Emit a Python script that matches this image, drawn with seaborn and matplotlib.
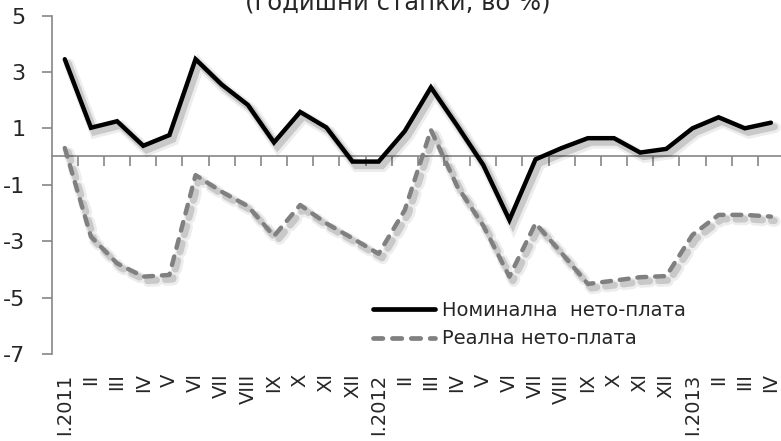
import numpy as np
import pandas as pd
import matplotlib
matplotlib.use("Agg")
import matplotlib.pyplot as plt
import matplotlib.patheffects as pe
import seaborn as sns

labels = ["I.2011", "II", "III", "IV", "V", "VI", "VII", "VIII", "IX", "X", "XI", "XII",
          "I.2012", "II", "III", "IV", "V", "VI", "VII", "VIII", "IX", "X", "XI", "XII",
          "I.2013", "II", "III", "IV"]
nominal = [3.45, 1.02, 1.25, 0.38, 0.76, 3.45, 2.55, 1.83, 0.50, 1.58, 1.03, -0.18,
           -0.18, 0.90, 2.45, 1.10, -0.30, -2.25, -0.10, 0.30, 0.65, 0.65, 0.14, 0.27,
           1.00, 1.39, 1.00, 1.20]
real = [0.30, -2.84, -3.79, -4.26, -4.20, -0.66, -1.25, -1.76, -2.82, -1.72, -2.37, -2.90,
        -3.45, -1.90, 0.94, -1.05, -2.45, -4.26, -2.37, -3.43, -4.52, -4.40, -4.28, -4.24,
        -2.78, -2.07, -2.07, -2.13]
name_nom = "Номинална  нето-плата"
name_real = "Реална нето-плата"
title = "(годишни стапки, во %)"
yticks = [-7, -5, -3, -1, 1, 3, 5]

sns.set_theme(style="white")
plt.rcParams["font.family"] = ["DejaVu Sans"]

W, H = 781, 441
fig = plt.figure(figsize=(W / 100, H / 100), dpi=100)
fig.patch.set_facecolor("white")
x0, x1, ytop, ybot = 51.7, 784.0, 15.5, 353.9
ax = fig.add_axes([x0 / W, 1 - ybot / H, (x1 - x0) / W, (ybot - ytop) / H])
ax.set_facecolor("white")

df = pd.DataFrame({"pos": np.arange(len(labels)), "nom": nominal, "real": real})

shadow = [pe.SimpleLineShadow(offset=(3, -3.5), shadow_color="black", alpha=0.07, linewidth=8),
          pe.SimpleLineShadow(offset=(2.5, -3), shadow_color="black", alpha=0.15, linewidth=5),
          pe.Normal()]

sns.lineplot(data=df, x="pos", y="nom", ax=ax, color="black", linewidth=3.2,
             label=name_nom, zorder=3)
sns.lineplot(data=df, x="pos", y="real", ax=ax, color="#808080", linewidth=3.2,
             linestyle=(0, (2, 2)), label=name_real, zorder=3)
for ln in ax.lines:
    ln.set_path_effects(shadow)
    ln.set_solid_joinstyle("miter")
ax.lines[1].set_dash_capstyle("round")

ax.set_xlim(-0.5, len(labels) - 0.5)
ax.set_ylim(-7, 5)
ax.set_yticks(yticks)
ax.set_yticklabels([str(v) for v in yticks])
ax.set_xticks(df["pos"])
ax.set_xticklabels(labels, rotation=90)
ax.set_xlabel("")
ax.set_ylabel("")
ax.tick_params(axis="x", length=0, labelsize=14, pad=14)
ax.tick_params(axis="y", left=True, length=7, width=1.2, color="#868686",
               labelsize=16, pad=12)
for s in ["top", "right", "bottom"]:
    ax.spines[s].set_visible(False)
ax.spines["left"].set_color("#868686")
ax.spines["left"].set_linewidth(1.2)

# zero line with category-boundary tick marks
sec = ax.secondary_xaxis(7 / 12)
sec.set_xticks(np.arange(0.5, len(labels) - 1, 1.0))
sec.set_xticklabels([])
sec.tick_params(axis="x", direction="in", length=7, width=1.2, color="#868686")
for s in sec.spines.values():
    s.set_color("#868686")
    s.set_linewidth(1.2)

leg = ax.legend(loc="upper left", bbox_to_anchor=(0.4388, 0.157), frameon=False,
                fontsize=14, handlelength=3.2, handletextpad=0.35, labelspacing=0.5,
                borderpad=0, borderaxespad=0)
for h in leg.legend_handles:
    h.set_path_effects([])
    h.set_linewidth(3.4)
leg.legend_handles[1].set_dash_capstyle("round")

fig.text(398 / W, 1 - 9.5 / H, title, ha="center", va="baseline", fontsize=17.5)

fig.savefig("out.png", dpi=100, facecolor="white")
